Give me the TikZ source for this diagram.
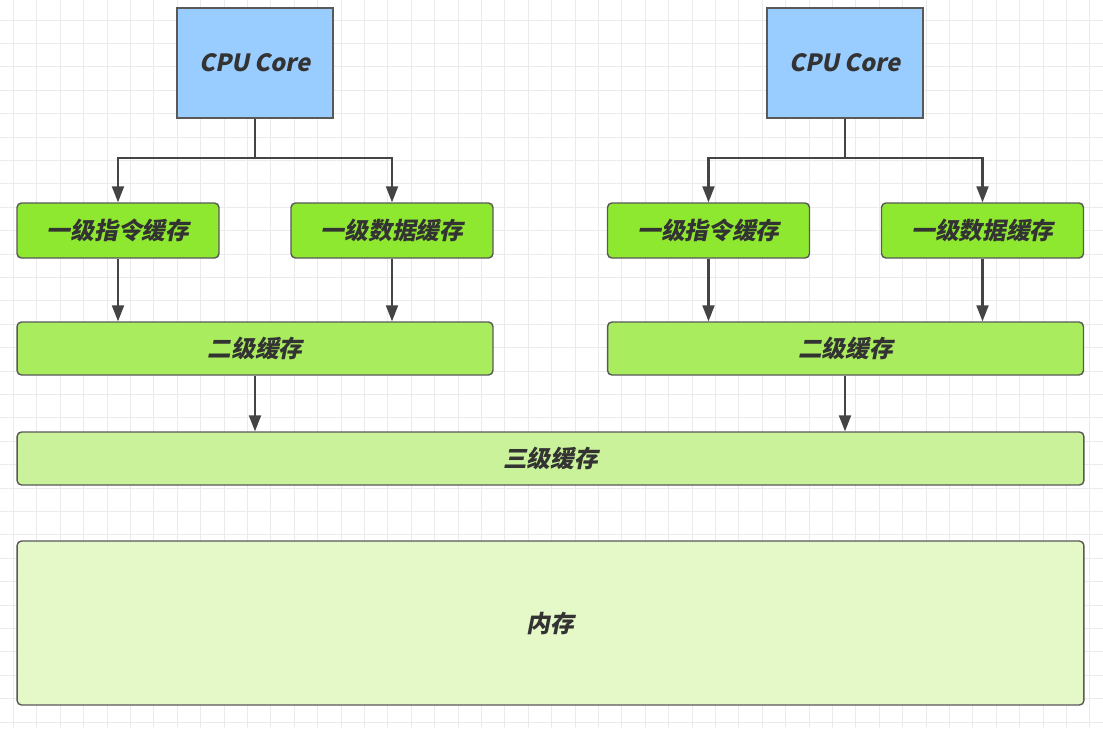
\documentclass[tikz,border=0pt]{standalone}
\usepackage{fontspec}
\setmainfont{Noto Sans CJK SC}[FakeSlant=0.2]
\usepackage{tikz}
\usetikzlibrary{arrows.meta,calc}

\definecolor{cpublue}{HTML}{99CCFF}
\definecolor{lonegreen}{HTML}{8FE830}
\definecolor{ltwogreen}{HTML}{A9EC5E}
\definecolor{lthreegreen}{HTML}{C9F29A}
\definecolor{memgreen}{HTML}{E4F8C8}
\definecolor{linegray}{HTML}{444444}
\definecolor{textgray}{HTML}{333333}

\begin{document}
\begin{tikzpicture}[x=0.02cm, y=-0.02cm,
    box/.style={draw=gray!70!black, line width=0.8pt, text=textgray,
        font=\fontsize{13.5pt}{15pt}\selectfont\bfseries, inner sep=0pt},
    cpubox/.style={box, fill=cpublue, minimum width=3.12cm, minimum height=2.2cm},
    lone/.style={box, fill=lonegreen, rounded corners=2.5pt, minimum width=4.04cm, minimum height=1.1cm},
    ltwo/.style={box, fill=ltwogreen, rounded corners=2.5pt, minimum width=9.52cm, minimum height=1.06cm},
    wide/.style={box, rounded corners=2.5pt, minimum width=21.34cm},
    link/.style={draw=linegray, line width=1.2pt},
    arr/.style={link, -{Triangle[length=0.32cm,width=0.24cm]}}]

    \useasboundingbox (0,0) rectangle (1103,728);
    \fill[white] (0,0) rectangle (1103,728);

    % Grid
    \foreach \gx in {13.4,36.8,...,1103} \draw[gray!16, line width=0.45pt] (\gx,0) -- (\gx,728);
    \foreach \gy in {20,43.4,...,728} \draw[gray!16, line width=0.45pt] (0,\gy) -- (1103,\gy);

    % Cores
    \node[cpubox] (cpuL) at (255,63) {CPU Core};
    \node[cpubox] (cpuR) at (845,63) {CPU Core};

    % First level
    \node[lone] (loneiL) at (118,230.5) {一级指令缓存};
    \node[lone] (lonedL) at (392,230.5) {一级数据缓存};
    \node[lone] (loneiR) at (708.5,230.5) {一级指令缓存};
    \node[lone] (lonedR) at (982.5,230.5) {一级数据缓存};

    % Second level
    \node[ltwo] (ltwoL) at (255,348.5) {二级缓存};
    \node[ltwo] (ltwoR) at (845.5,348.5) {二级缓存};

    % Third level and memory
    \node[wide, fill=lthreegreen, minimum height=1.06cm] (lthree) at (550.5,458.5) {三级缓存};
    \node[wide, fill=memgreen, minimum height=3.28cm] (mem) at (550.5,623) {内存};

    % Core to first level
    \coordinate (splitL) at (255,158);
    \coordinate (splitR) at (845,158);
    \draw[link] (cpuL) -- (splitL);
    \draw[arr] (splitL) -| (loneiL);
    \draw[arr] (splitL) -| (lonedL);
    \draw[link] (cpuR) -- (splitR);
    \draw[arr] (splitR) -| (loneiR);
    \draw[arr] (splitR) -| (lonedR);

    % First level to second level
    \draw[arr] (loneiL) -- (loneiL |- ltwoL.north);
    \draw[arr] (lonedL) -- (lonedL |- ltwoL.north);
    \draw[arr] (loneiR) -- (loneiR |- ltwoR.north);
    \draw[arr] (lonedR) -- (lonedR |- ltwoR.north);

    % Second level to third level
    \draw[arr] (ltwoL) -- (ltwoL |- lthree.north);
    \draw[arr] (cpuR |- ltwoR.south) -- (cpuR |- lthree.north);

\end{tikzpicture}
\end{document}
